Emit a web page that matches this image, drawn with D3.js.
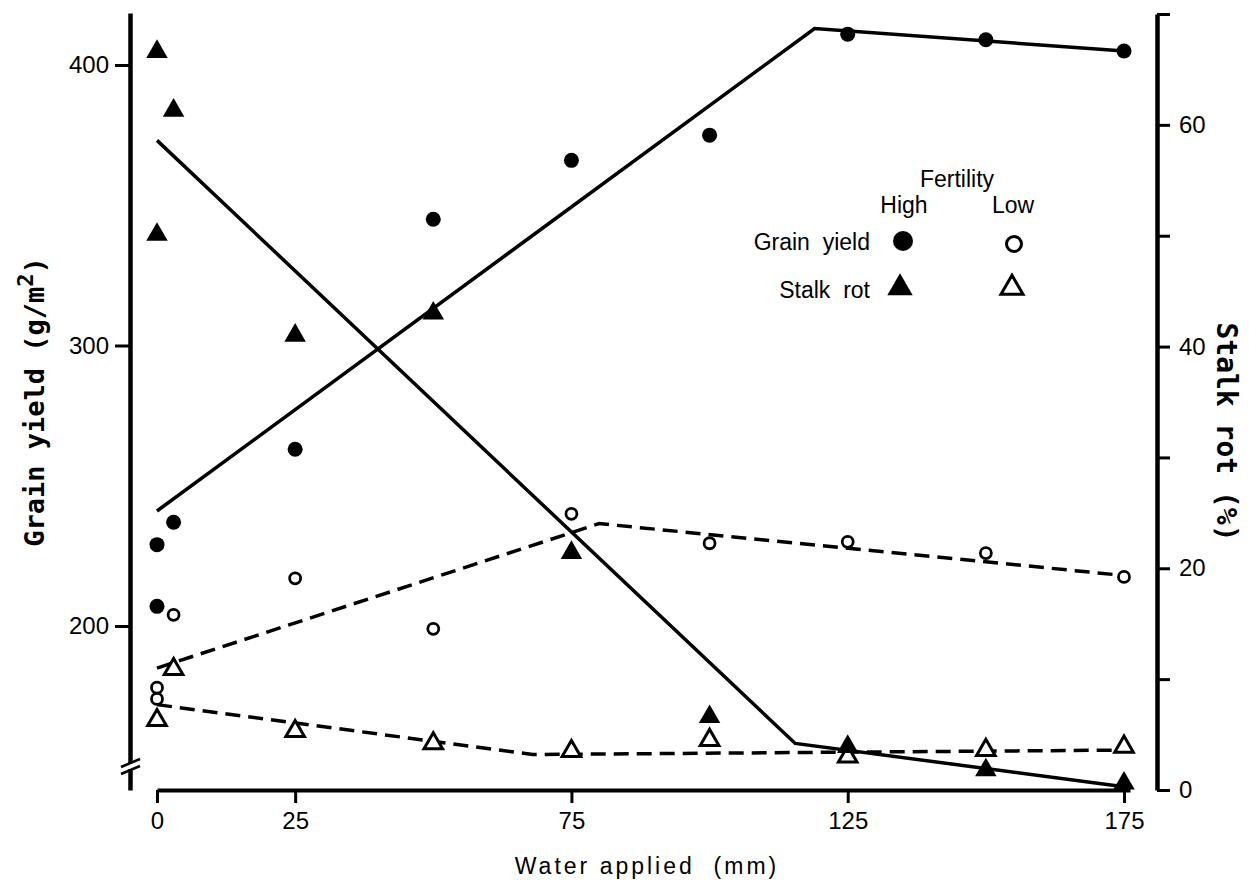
<!DOCTYPE html>
<html>
<head>
<meta charset="utf-8">
<script src="https://cdn.jsdelivr.net/npm/d3@7"></script>
<style>
  body { margin: 0; background: #fff; }
  svg { display: block; }
  .tick text { font-family: "Liberation Sans", Arial, sans-serif; font-size: 24px; fill: #000; }
</style>
</head>
<body>
<div class="canvas"></div>
<script>
// data (water applied in mm)
const waterPts = [0, 0, 3, 25, 50, 75, 100, 125, 150, 175];
const grainHigh = [229, 207, 237, 263, 345, 366, 375, 411, 409, 405];
const grainLowX = [0, 0, 3, 25, 50, 75, 100, 125, 150, 175];
const grainLow = [178, 174, 204, 217, 199, 240, 229.5, 230, 226, 217.5];
const stalkHigh = [66.6, 50.1, 61.3, 41, 43, 21.4, 6.6, 3.9, 1.8, 0.6];
const stalkLowX = [0, 3, 25, 50, 75, 100, 125, 150, 175];
const stalkLow = [6.3, 10.9, 5.3, 4.2, 3.5, 4.5, 3.0, 3.6, 3.9];

// fitted response lines
const grainHighFitX = [0, 119, 175];
const grainHighFit = [241, 413, 405];
const grainLowFitX = [0, 80, 175];
const grainLowFit = [185, 236.5, 218];
const stalkHighFitX = [0, 115.5, 175];
const stalkHighFit = [58.6, 4.2, 0.3];
const stalkLowFitX = [0, 68, 175];
const stalkLowFit = [7.7, 3.2, 3.6];

// tick labels
const xTicks = [0, 25, 75, 125, 175];
const leftTicks = [200, 300, 400];
const rightTicks = [0, 10, 20, 30, 40, 50, 60, 70];
const rightLabels = [0, 20, 40, 60];

const width = 1249, height = 885;

const svg = d3.select('.canvas')
  .append('svg')
  .attr('width', width)
  .attr('height', height);

// scales
const x = d3.scaleLinear().domain([0, 175]).range([157, 1124]);
const yL = d3.scaleLinear().domain([200, 400]).range([626, 65]);
const yR = d3.scaleLinear().domain([0, 70]).range([790, 14]);

const font = '"Liberation Sans", Arial, sans-serif';
const mono = '"DejaVu Sans Mono", "Liberation Mono", monospace';

// axes
const xAxisScale = x.copy().domain([0, x.invert(1130)]).range([157, 1130]);
const xAxis = svg.append('g')
  .attr('transform', 'translate(0,790)')
  .call(d3.axisBottom(xAxisScale).tickValues(xTicks).tickSize(13).tickSizeOuter(0).tickPadding(9).tickFormat(d => d));

const yLAxisScale = yL.copy().domain([yL.invert(790), yL.invert(13)]).range([790, 13]);
const yLAxis = svg.append('g')
  .attr('transform', 'translate(130,0)')
  .call(d3.axisLeft(yLAxisScale).tickValues(leftTicks).tickSize(15).tickSizeOuter(0).tickPadding(6).tickFormat(d => d));

const yRAxis = svg.append('g')
  .attr('transform', 'translate(1157,0)')
  .call(d3.axisRight(yR).tickValues(rightTicks).tickSize(13).tickSizeOuter(0).tickPadding(9)
    .tickFormat(d => rightLabels.includes(d) ? d : ''));

[xAxis, yLAxis, yRAxis].forEach(g => {
  g.select('.domain').attr('stroke', '#000').attr('stroke-width', 4.5);
  g.selectAll('.tick line').attr('stroke', '#000').attr('stroke-width', 3);
});
xAxis.select('.domain').attr('stroke-width', 4);

// axis break on the left axis
const brk = svg.append('g');
brk.append('rect').attr('x', 124).attr('y', 763).attr('width', 12).attr('height', 6).attr('fill', '#fff');
[0, 7].forEach(off => {
  brk.append('line')
    .attr('x1', 121).attr('y1', 767 + off)
    .attr('x2', 140).attr('y2', 759 + off)
    .attr('stroke', '#000').attr('stroke-width', 2.5);
});

// axis titles
svg.append('text')
  .attr('transform', 'translate(44,402) rotate(-90)')
  .attr('text-anchor', 'middle')
  .attr('font-family', mono).attr('font-weight', 'bold').attr('font-size', 27)
  .text('Grain yield (g/m')
  .append('tspan').attr('dy', -11).attr('font-size', 22).text('2')
  .select(function() { return this.parentNode; })
  .append('tspan').attr('dy', 11).text(')');

svg.append('text')
  .attr('transform', 'translate(1217,432) rotate(90)')
  .attr('text-anchor', 'middle')
  .attr('font-family', mono).attr('font-weight', 'bold').attr('font-size', 28)
  .text('Stalk rot (%)');

svg.append('text')
  .attr('x', 647).attr('y', 874)
  .attr('text-anchor', 'middle')
  .attr('font-family', font).attr('font-size', 23)
  .attr('letter-spacing', 3)
  .attr('xml:space', 'preserve')
  .text('Water applied  (mm)');

// fitted lines
const lineL = d3.line().x(d => x(d[0])).y(d => yL(d[1]));
const lineR = d3.line().x(d => x(d[0])).y(d => yR(d[1]));

const fits = [
  { xs: grainHighFitX, ys: grainHighFit, gen: lineL, dash: null },
  { xs: grainLowFitX, ys: grainLowFit, gen: lineL, dash: '15,8' },
  { xs: stalkHighFitX, ys: stalkHighFit, gen: lineR, dash: null },
  { xs: stalkLowFitX, ys: stalkLowFit, gen: lineR, dash: '15,8' }
];

fits.forEach(f => {
  svg.append('path')
    .datum(f.xs.map((v, i) => [v, f.ys[i]]))
    .attr('fill', 'none')
    .attr('stroke', '#000')
    .attr('stroke-width', 3.5)
    .attr('stroke-dasharray', f.dash)
    .attr('d', f.gen);
});

// points
const tri = d3.symbol().type(d3.symbolTriangle);

svg.append('g').selectAll('path')
  .data(stalkLow.map((v, i) => [stalkLowX[i], v]))
  .enter().append('path')
    .attr('d', tri.size(150)())
    .attr('transform', d => `translate(${x(d[0])},${yR(d[1])})`)
    .attr('fill', '#fff').attr('stroke', '#000').attr('stroke-width', 3);

svg.append('g').selectAll('path')
  .data(stalkHigh.map((v, i) => [waterPts[i], v]))
  .enter().append('path')
    .attr('d', tri.size(200)())
    .attr('transform', d => `translate(${x(d[0])},${yR(d[1])})`)
    .attr('fill', '#000');

svg.append('g').selectAll('circle')
  .data(grainLow.map((v, i) => [grainLowX[i], v]))
  .enter().append('circle')
    .attr('r', 5.5)
    .attr('cx', d => x(d[0]))
    .attr('cy', d => yL(d[1]))
    .attr('fill', '#fff').attr('stroke', '#000').attr('stroke-width', 2.8);

svg.append('g').selectAll('circle')
  .data(grainHigh.map((v, i) => [waterPts[i], v]))
  .enter().append('circle')
    .attr('r', 7.5)
    .attr('cx', d => x(d[0]))
    .attr('cy', d => yL(d[1]))
    .attr('fill', '#000');

// legend
const legend = svg.append('g')
  .attr('font-family', font).attr('font-size', 23).attr('fill', '#000');

legend.append('text').attr('x', 957).attr('y', 187).attr('text-anchor', 'middle').text('Fertility');
legend.append('text').attr('x', 904).attr('y', 213).attr('text-anchor', 'middle').text('High');
legend.append('text').attr('x', 1013).attr('y', 213).attr('text-anchor', 'middle').text('Low');
legend.append('text').attr('x', 870).attr('y', 250).attr('text-anchor', 'end')
  .attr('xml:space', 'preserve').text('Grain  yield');
legend.append('text').attr('x', 870).attr('y', 298).attr('text-anchor', 'end')
  .attr('xml:space', 'preserve').text('Stalk  rot');

legend.append('circle').attr('cx', 903).attr('cy', 241).attr('r', 10).attr('fill', '#000');
legend.append('circle').attr('cx', 1014).attr('cy', 244).attr('r', 7.5)
  .attr('fill', '#fff').attr('stroke', '#000').attr('stroke-width', 3);
legend.append('path').attr('d', tri.size(280)())
  .attr('transform', 'translate(900,288)').attr('fill', '#000');
legend.append('path').attr('d', tri.size(210)())
  .attr('transform', 'translate(1012,288)')
  .attr('fill', '#fff').attr('stroke', '#000').attr('stroke-width', 3);
</script>
</body>
</html>
